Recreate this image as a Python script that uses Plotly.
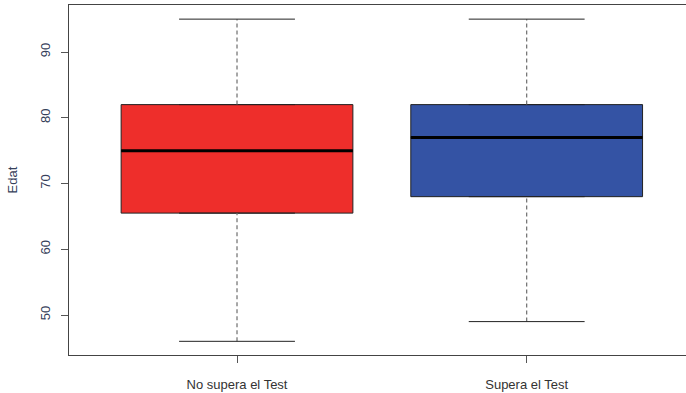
import plotly.graph_objects as go

categories = ["No supera el Test", "Supera el Test"]
positions = [1, 2]
q1 = [65.5, 68.0]
median = [75.0, 77.0]
q3 = [82.0, 82.0]
lower_whisker = [46.0, 49.0]
upper_whisker = [95.0, 95.0]
colors = ["#EE2E2B", "#3453A4"]
y_ticks = [50, 60, 70, 80, 90]

box_w = 0.8
cap_w = 0.4
text_color = "#36405A"

fig = go.Figure()

for i in range(len(categories)):
    x = positions[i]
    # dashed whiskers
    for a, b in [(lower_whisker[i], q1[i]), (q3[i], upper_whisker[i])]:
        fig.add_trace(go.Scatter(x=[x, x], y=[a, b], mode="lines",
                                 line=dict(color="#6E6E6E", width=1.2, dash="4px,3px"),
                                 hoverinfo="skip", showlegend=False))
    # caps
    for v in [lower_whisker[i], upper_whisker[i]]:
        fig.add_trace(go.Scatter(x=[x - cap_w / 2, x + cap_w / 2], y=[v, v], mode="lines",
                                 line=dict(color="#222222", width=1),
                                 hoverinfo="skip", showlegend=False))
    # box
    fig.add_trace(go.Box(x=[x], q1=[q1[i]], median=[median[i]], q3=[q3[i]],
                         lowerfence=[q1[i]], upperfence=[q3[i]],
                         width=box_w, fillcolor=colors[i],
                         line=dict(color="#222222", width=1),
                         boxpoints=False, hoverinfo="skip", showlegend=False))
    # thick median
    fig.add_trace(go.Scatter(x=[x - box_w / 2, x + box_w / 2], y=[median[i], median[i]],
                             mode="lines", line=dict(color="black", width=3),
                             hoverinfo="skip", showlegend=False))

fig.update_layout(
    width=686, height=393,
    margin=dict(l=69, r=0, t=5, b=38),
    paper_bgcolor="white", plot_bgcolor="white",
    font=dict(family="Liberation Sans, Arial, sans-serif", size=13, color=text_color),
    showlegend=False,
)
fig.update_xaxes(
    range=[0.42, 2.55], tickmode="array", tickvals=positions, ticktext=categories,
    showgrid=False, zeroline=False, showline=True, linecolor="#444444", linewidth=1,
    mirror=True, ticks="outside", ticklen=7, tickcolor="#555555",
    ticklabelstandoff=10, tickfont=dict(size=13, color="#333333"), automargin=False,
)
fig.update_yaxes(
    range=[43.92, 97.15], tickmode="array", tickvals=y_ticks,
    showgrid=False, zeroline=False, showline=True, linecolor="#444444", linewidth=1,
    ticks="outside", ticklen=7, tickcolor="#555555", tickangle=-90,
    ticklabelstandoff=6, tickfont=dict(size=13, color=text_color), automargin=False,
    title=dict(text="Edat", standoff=17, font=dict(size=13, color=text_color)),
)

fig.write_html("out.html", config={"displayModeBar": False},
               post_script="document.body.style.margin='0';document.body.style.overflow='hidden';")
